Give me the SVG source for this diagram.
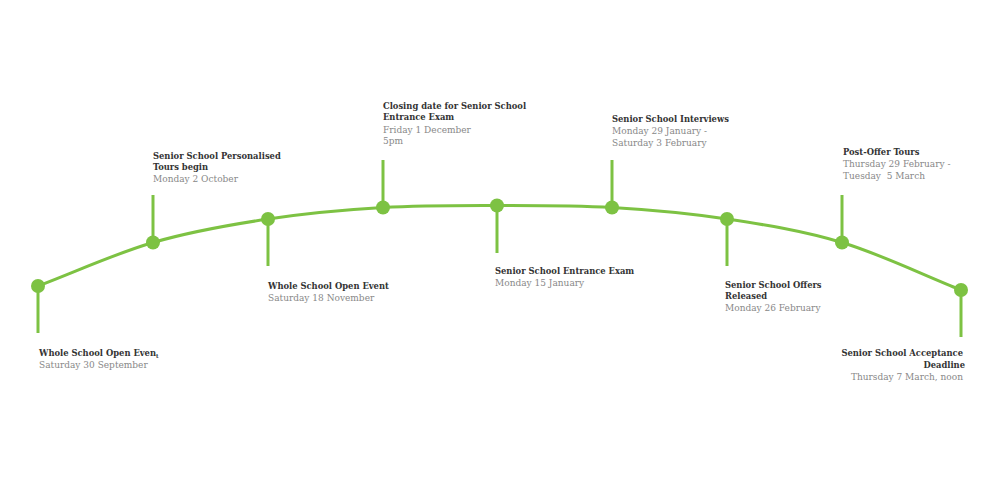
<svg xmlns="http://www.w3.org/2000/svg" width="1000" height="500" viewBox="0 0 1000 500">
<style>
.line{fill:none;stroke:#7dc243;stroke-width:3;stroke-linecap:round}
.stem{stroke:#7dc243;stroke-width:3}
.dot{fill:#7dc243}
.t{font-family:"DejaVu Serif","Liberation Serif",serif}
.b{font-weight:bold;fill:#333;font-size:9.3px;font-stretch:condensed}
.g{fill:#888;font-size:9px}
</style>
<rect width="1000" height="500" fill="#fff"/>
<g id="connectors">
<path class="line" d="M38,286 C76.3,271.5 114.7,253.7 153,242.5 C191.3,231.3 229.7,224.8 268,219 C306.3,213.2 344.8,209.75 383,207.5 C421.2,205.25 458.8,205.5 497,205.5 C535.2,205.5 573.7,205.25 612,207.5 C650.3,209.750 688.7,213.2 727,219 C765.3,224.8 803,230.7 842,242.5 C881,254.3 921.3,274.2 961,290"/>
<line class="stem" x1="38" y1="286" x2="38" y2="333"/>
<line class="stem" x1="153" y1="242.5" x2="153" y2="195"/>
<line class="stem" x1="268" y1="219" x2="268" y2="266"/>
<line class="stem" x1="383" y1="207.5" x2="383" y2="160"/>
<line class="stem" x1="497" y1="205.5" x2="497" y2="253"/>
<line class="stem" x1="612" y1="207.5" x2="612" y2="160"/>
<line class="stem" x1="727" y1="219" x2="727" y2="266"/>
<line class="stem" x1="842" y1="242.5" x2="842" y2="195"/>
<line class="stem" x1="961" y1="290" x2="961" y2="337"/>
</g>
<g id="n1"><circle class="dot" cx="38" cy="286" r="7"/>
<text class="t b" x="39" y="356">Whole School Open Even<tspan font-size="6" dy="1.5">t</tspan></text>
<text class="t g" x="39" y="368">Saturday 30 September</text></g>
<g id="n2"><circle class="dot" cx="153" cy="242.5" r="7"/>
<text class="t b" x="153" y="158.5">Senior School Personalised</text>
<text class="t b" x="153" y="170">Tours begin</text>
<text class="t g" x="153" y="182">Monday 2 October</text></g>
<g id="n3"><circle class="dot" cx="268" cy="219" r="7"/>
<text class="t b" x="268" y="289">Whole School Open Event</text>
<text class="t g" x="268" y="301">Saturday 18 November</text></g>
<g id="n4"><circle class="dot" cx="383" cy="207.5" r="7"/>
<text class="t b" x="383" y="108.5">Closing date for Senior School</text>
<text class="t b" x="383" y="120">Entrance Exam</text>
<text class="t g" x="383" y="133">Friday 1 December</text>
<text class="t g" x="383" y="144">5pm</text></g>
<g id="n5"><circle class="dot" cx="497" cy="205.5" r="7"/>
<text class="t b" x="495" y="273.5">Senior School Entrance Exam</text>
<text class="t g" x="495" y="285.5">Monday 15 January</text></g>
<g id="n6"><circle class="dot" cx="612" cy="207.5" r="7"/>
<text class="t b" x="612" y="122">Senior School Interviews</text>
<text class="t g" x="612" y="134">Monday 29 January -</text>
<text class="t g" x="612" y="146">Saturday 3 February</text></g>
<g id="n7"><circle class="dot" cx="727" cy="219" r="7"/>
<text class="t b" x="725" y="287.5">Senior School Offers</text>
<text class="t b" x="725" y="299">Released</text>
<text class="t g" x="725" y="310.5">Monday 26 February</text></g>
<g id="n8"><circle class="dot" cx="842" cy="242.5" r="7"/>
<text class="t b" x="843" y="155">Post-Offer Tours</text>
<text class="t g" x="843" y="167">Thursday 29 February -</text>
<text class="t g" x="843" y="179" xml:space="preserve">Tuesday  5 March</text></g>
<g id="n9"><circle class="dot" cx="961" cy="290" r="7"/>
<text class="t b" x="963" y="356" text-anchor="end">Senior School Acceptance</text>
<text class="t b" x="965" y="368" text-anchor="end">Deadline</text>
<text class="t g" x="963" y="380" text-anchor="end">Thursday 7 March, noon</text></g>
</svg>
